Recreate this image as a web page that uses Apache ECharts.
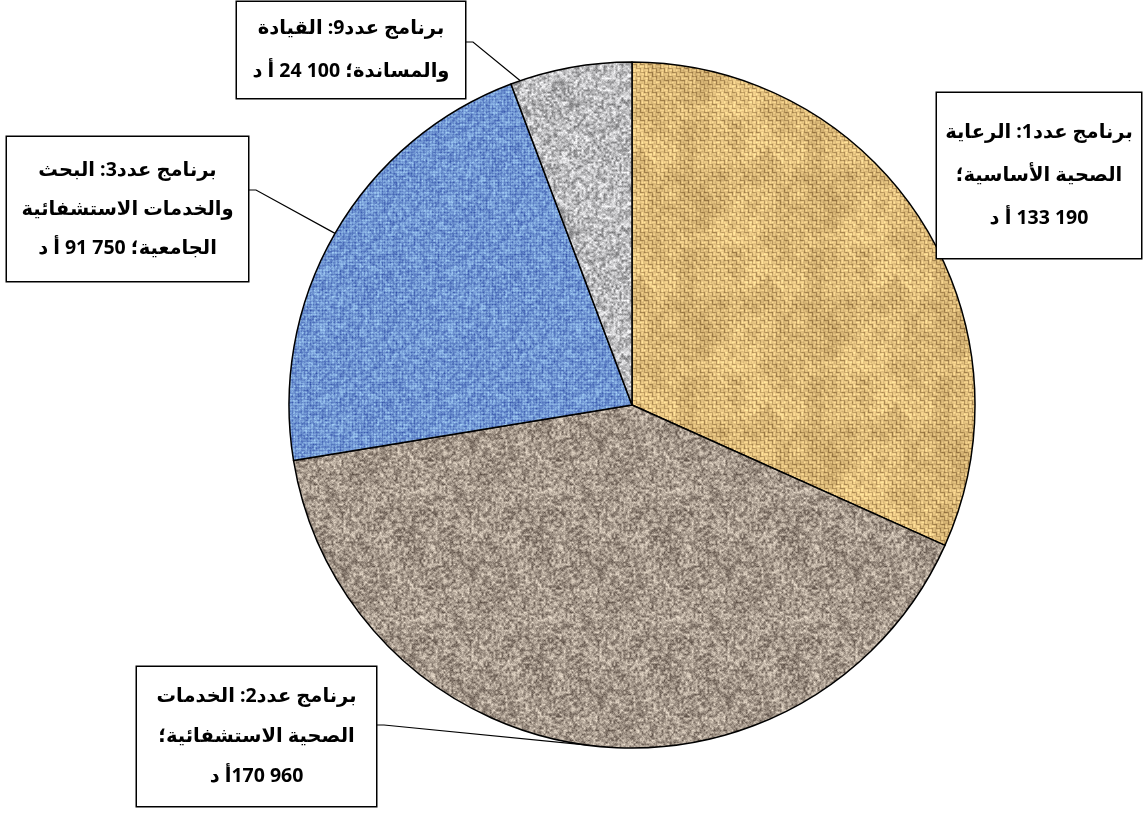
<!DOCTYPE html>
<html><head><meta charset="utf-8">
<script src="https://cdn.jsdelivr.net/npm/echarts@6/dist/echarts.min.js"></script>
<style>html,body{margin:0;padding:0;background:#fff}#c{width:1144px;height:813px}</style>
</head><body><div id="c" dir="rtl"></div>
<script>
// ---- data ----
const categories = [
  'برنامج عدد1: الرعاية الصحية الأساسية',
  'برنامج عدد2: الخدمات الصحية الاستشفائية',
  'برنامج عدد3: البحث والخدمات الاستشفائية الجامعية',
  'برنامج عدد9: القيادة والمساندة'
];
const values = [133190, 170960, 91750, 24100];
const labelLines = [
  ['برنامج عدد1: الرعاية', 'الصحية الأساسية؛', '133\u00A0190 أ د'],
  ['برنامج عدد2: الخدمات', 'الصحية الاستشفائية؛', '170\u00A0960أ د'],
  ['برنامج عدد3: البحث', 'والخدمات الاستشفائية', 'الجامعية؛ 91\u00A0750 أ د'],
  ['برنامج عدد9: القيادة', 'والمساندة؛ 24\u00A0100 أ د']
];

// ---- styles ----
const CENTER = [632, 405], RADIUS = 343;
// anchor: where on the slice's arc the leader line starts (0 = slice start, 0.5 = middle)
const boxes = [
  {cx: 1039, cy: 175.5, w: 204, h: 165, lh: 43, padT: 7.5, padB: 28.5, line: false},
  {cx: 256.5, cy: 736.5, w: 239, h: 139, lh: 40, padT: 10, padB: 9, line: true, anchor: 0.5, elbow: [384, 725], end: [376, 725]},
  {cx: 127.5, cy: 209, w: 241, h: 144, lh: 39, padT: 6.5, padB: 20.5, line: true, anchor: 0.5, elbow: [256, 190], end: [248, 190]},
  {cx: 351, cy: 50, w: 228, h: 96, lh: 43, padT: 7.5, padB: 2.5, line: true, anchor: 0.08, elbow: [473, 42], end: [465, 42]}
];
const total = values.reduce((a, b) => a + b, 0);
function arcPoint(i, t) {
  let start = 0;
  for (let k = 0; k < i; k++) start += values[k];
  const th = (start + t * values[i]) / total * Math.PI * 2;
  return [CENTER[0] + RADIUS * Math.sin(th), CENTER[1] - RADIUS * Math.cos(th)];
}

// deterministic texture noise (styling only)
const T = 128;
function hash(i, j, s) { const x = Math.sin(i * 127.1 + j * 311.7 + s * 74.7) * 43758.5453; return x - Math.floor(x); }
function vnoise(x, y, cell, s) {
  const P = T / cell, gx = x / cell, gy = y / cell;
  const i0 = Math.floor(gx), j0 = Math.floor(gy);
  let fx = gx - i0, fy = gy - j0;
  fx = fx * fx * (3 - 2 * fx); fy = fy * fy * (3 - 2 * fy);
  const m = v => ((v % P) + P) % P;
  const a = hash(m(i0), m(j0), s), b = hash(m(i0 + 1), m(j0), s);
  const c = hash(m(i0), m(j0 + 1), s), d = hash(m(i0 + 1), m(j0 + 1), s);
  return (a * (1 - fx) + b * fx) * (1 - fy) + (c * (1 - fx) + d * fx) * fy - 0.5;
}
function clamp(v) { return v < 0 ? 0 : v > 255 ? 255 : v; }
function makeTexture(kind) {
  const cv = document.createElement('canvas'); cv.width = T; cv.height = T;
  const ctx = cv.getContext('2d');
  const img = ctx.createImageData(T, T);
  for (let y = 0; y < T; y++) for (let x = 0; x < T; x++) {
    let r, g, b, l;
    if (kind === 'tan') {
      const bx = Math.floor(x / 4), by = Math.floor(y / 4);
      const horiz = ((bx + by) % 2 === 0);
      const t = (horiz ? y : x) % 4;
      l = [-38, 14, 26, 6][t];
      l += vnoise(x, y, 2, 1) * 40 + vnoise(x, y, 16, 2) * 30;
      r = 214 + l; g = 180 + l; b = 116 + l * 0.8;
    } else if (kind === 'brown') {
      l = vnoise(x, y, 2, 3) * 110 + vnoise(x, y, 1, 4) * 40 + vnoise(x, y, 16, 5) * 20;
      r = 166 + l; g = 153 + l; b = 140 + l * 0.95;
    } else if (kind === 'blue') {
      l = ((x % 3 === 0) ? -16 : 6) + ((y % 3 === 0) ? -16 : 6);
      l += vnoise(x, y, 2, 6) * 80 + vnoise(x, y, 1, 7) * 30;
      r = 114 + l * 0.8; g = 152 + l * 0.9; b = 212 + l * 0.55;
    } else {
      l = vnoise(x, y, 2, 8) * 120 + vnoise(x, y, 1, 9) * 35 + vnoise(x, y, 8, 10) * 20;
      r = 186 + l; g = 186 + l; b = 188 + l;
    }
    const i = (y * T + x) * 4;
    img.data[i] = clamp(r); img.data[i + 1] = clamp(g); img.data[i + 2] = clamp(b); img.data[i + 3] = 255;
  }
  ctx.putImageData(img, 0, 0);
  return {image: cv, repeat: 'repeat'};
}
const textures = [makeTexture('tan'), makeTexture('brown'), makeTexture('blue'), makeTexture('grey')];

const chart = echarts.init(document.getElementById('c'), null, {renderer: 'canvas'});
const data = categories.map((name, i) => ({
  name: name,
  value: values[i],
  itemStyle: {color: textures[i]},
  label: {
    width: boxes[i].w - 10,
    lineHeight: boxes[i].lh,
    padding: [boxes[i].padT, 5, boxes[i].padB, 5]
  },
  labelLine: {show: boxes[i].line}
}));

chart.setOption({
  animation: false,
  backgroundColor: '#fff',
  series: [{
    type: 'pie',
    center: CENTER,
    radius: RADIUS,
    startAngle: 90,
    clockwise: true,
    data: data,
    itemStyle: {borderColor: '#000', borderWidth: 1.5},
    emphasis: {disabled: true},
    label: {
      show: true,
      position: 'outside',
      formatter: p => labelLines[p.dataIndex].map(s => '\u202B' + s + '\u202C').join('\n'),
      fontFamily: "'Open Sans', 'DejaVu Sans'",
      fontWeight: 'bold',
      fontSize: 19.5,
      color: '#000',
      align: 'center',
      backgroundColor: '#fff',
      borderColor: '#000',
      borderWidth: 1.5
    },
    labelLine: {show: true, lineStyle: {color: '#000', width: 1.2}},
    labelLayout: function (params) {
      const i = params.dataIndex, b = boxes[i];
      const out = {x: b.cx, y: b.cy, align: 'center', verticalAlign: 'middle', moveOverlap: false, hideOverlap: false};
      if (b.line) {
        out.labelLinePoints = [arcPoint(i, b.anchor), b.elbow, b.end];
      }
      return out;
    }
  }]
});
</script></body></html>
